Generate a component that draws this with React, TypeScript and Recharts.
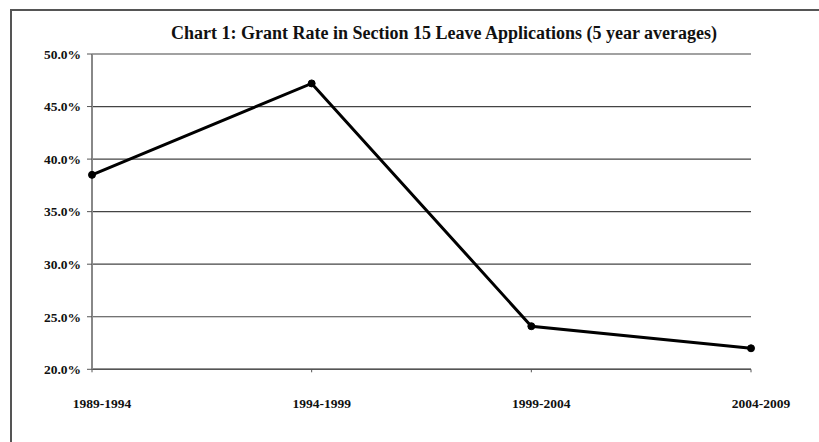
import React from "react";
import { LineChart, Line, XAxis, YAxis, CartesianGrid } from "recharts";

const periods = ["1989-1994", "1994-1999", "1999-2004", "2004-2009"];
const grantRates = [38.5, 47.2, 24.1, 22.0];
const yTicks = [20, 25, 30, 35, 40, 45, 50];
const title = "Chart 1: Grant Rate in Section 15 Leave Applications (5 year averages)";

const data = periods.map((p, i) => ({ period: p, rate: grantRates[i] }));

const FONT = "'Liberation Serif', 'Times New Roman', serif";

const XTick = (props: any) => {
  const { x, y, payload } = props;
  return (
    <text x={x + 10} y={y} dy="0.71em" textAnchor="middle" style={{ fontFamily: FONT, fontWeight: "bold", fontSize: 13.5 }} fill="#111">
      {payload.value}
    </text>
  );
};

const YTick = (props: any) => {
  const { x, y, payload } = props;
  return (
    <text x={x} y={y} dy="0.355em" textAnchor="end" style={{ fontFamily: FONT, fontWeight: "bold", fontSize: 13.5 }} fill="#111">
      {Number(payload.value).toFixed(1) + "%"}
    </text>
  );
};

export default function App() {
  return (
    <div style={{ position: "absolute", left: 0, top: 0, width: 819, height: 442, background: "#fff", overflow: "hidden" }}>
      <style>{"html,body{overflow:hidden;margin:0;}"}</style>
      <div style={{ position: "absolute", left: 10, top: 9, width: 809, height: 433, borderTop: "2px solid #555", borderLeft: "2px solid #555", boxSizing: "border-box" }} />
      <div style={{ position: "absolute", left: 444, top: 24, transform: "translateX(-50%)", whiteSpace: "nowrap", fontFamily: FONT, fontWeight: "bold", fontSize: 18, lineHeight: 1, color: "#111" }}>
        {title}
      </div>
      <div style={{ position: "absolute", left: 0, top: 0 }}>
        <LineChart width={819} height={442} data={data} margin={{ top: 54, right: 68, left: 0, bottom: 0 }}>
          <CartesianGrid vertical={false} stroke="#444" strokeWidth={1.2} />
          <XAxis
            dataKey="period"
            scale="point"
            padding={{ left: 0, right: 0 }}
            height={72.7}
            tickSize={3}
            tickMargin={26}
            tickLine={{ stroke: "#555" }}
            axisLine={{ stroke: "#555", strokeWidth: 1.5 }}
            tick={<XTick />}
            interval={0}
          />
          <YAxis
            domain={[20, 50]}
            ticks={yTicks}
            width={92}
            tickSize={5}
            tickMargin={6}
            tickLine={{ stroke: "#555" }}
            axisLine={{ stroke: "#888", strokeWidth: 2 }}
            tick={<YTick />}
            interval={0}
          />
          <Line
            type="linear"
            dataKey="rate"
            stroke="#000"
            strokeWidth={3}
            dot={{ r: 3.5, fill: "#000", stroke: "#000", strokeWidth: 1 }}
            activeDot={false}
            isAnimationActive={false}
          />
        </LineChart>
      </div>
      <div style={{ position: "absolute", right: 0, top: 11, width: 8, height: 60, background: "#fff", zIndex: 10 }} />
    </div>
  );
}
